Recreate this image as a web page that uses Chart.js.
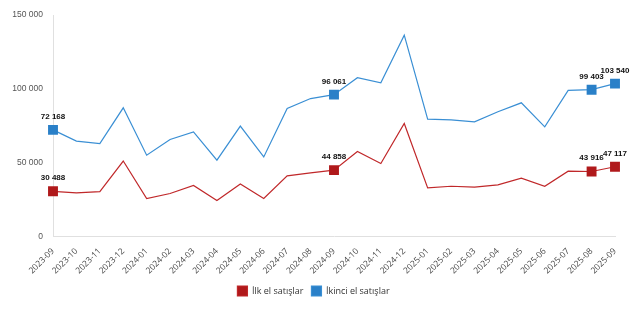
<!DOCTYPE html>
<html>
<head>
<meta charset="utf-8">
<script src="https://cdn.jsdelivr.net/npm/chart.js@4"></script>
<style>
html,body{margin:0;padding:0;background:#fff;}
#wrap{width:643px;height:330px;position:relative;}
</style>
</head>
<body>
<div id="wrap"><canvas id="c" width="643" height="330"></canvas></div>
<script>
const categories = ["2023-09","2023-10","2023-11","2023-12","2024-01","2024-02","2024-03","2024-04","2024-05","2024-06","2024-07","2024-08","2024-09","2024-10","2024-11","2024-12","2025-01","2025-02","2025-03","2025-04","2025-05","2025-06","2025-07","2025-08","2025-09"];
const ilkEl = [30488,29400,30300,51000,25600,29000,34400,24200,35500,25600,40900,43000,44858,57500,49300,76500,32800,33900,33300,34800,39400,33900,44100,43916,47117];
const ikinciEl = [72168,64500,62900,87100,55000,65600,70800,51600,74700,53800,86700,93400,96061,107500,104100,136400,79400,78900,77600,84400,90500,74200,98900,99403,103540];
const labelledIdx = [0,12,23,24];
const yTicks = [0,50000,100000,150000];
const seriesNames = ["İlk el satışlar","İkinci el satışlar"];
const colors = ["#b0191b","#2a80c8"];
const lineColors = ["#c0282a","#3a8fd4"];

function fmt(v){return String(v).replace(/\B(?=(\d{3})+(?!\d))/g," ");}

const radii = categories.map((_,i)=>labelledIdx.includes(i)?7:0);

const labelPlugin = {
  id:'lbl',
  afterDatasetsDraw(chart){
    const ctx = chart.ctx;
    ctx.save();
    ctx.font = 'bold 8px "Liberation Sans", Arial, sans-serif';
    ctx.fillStyle = '#111';
    ctx.textAlign = 'center';
    ctx.textBaseline = 'alphabetic';
    chart.data.datasets.forEach((ds,di)=>{
      const meta = chart.getDatasetMeta(di);
      labelledIdx.forEach(i=>{
        const p = meta.data[i];
        ctx.fillText(fmt(ds.data[i]), p.x, p.y - 11);
      });
    });
    ctx.restore();
  }
};

new Chart(document.getElementById('c'),{
  type:'line',
  data:{
    labels:categories,
    datasets:[
      {label:seriesNames[0],data:ilkEl,borderColor:lineColors[0],backgroundColor:colors[0],borderWidth:1.2,pointStyle:'rect',pointRadius:radii,pointHoverRadius:radii,pointBackgroundColor:colors[0],pointBorderColor:colors[0],pointBorderWidth:0,tension:0},
      {label:seriesNames[1],data:ikinciEl,borderColor:lineColors[1],backgroundColor:colors[1],borderWidth:1.2,pointStyle:'rect',pointRadius:radii,pointHoverRadius:radii,pointBackgroundColor:colors[1],pointBorderColor:colors[1],pointBorderWidth:0,tension:0}
    ]
  },
  options:{
    responsive:false,
    animation:false,
    devicePixelRatio:1,
    layout:{padding:{top:11,right:28,bottom:24,left:12}},
    plugins:{
      legend:{position:'bottom',labels:{boxWidth:10,boxHeight:10,padding:8,color:'#333',font:{family:'"Open Sans", sans-serif',size:9}}},
      tooltip:{enabled:false}
    },
    scales:{
      x:{
        offset:false,
        grid:{display:false},
        border:{display:true,color:'#e0e0e0'},
        afterFit(axis){axis.paddingLeft = 0; axis.paddingRight = 0;},
        ticks:{minRotation:45,maxRotation:45,autoSkip:false,color:'#444',padding:2,font:{family:'"Open Sans", sans-serif',size:8.5}}
      },
      y:{
        min:0,max:150000,
        grid:{display:false,drawTicks:false},
        border:{display:true,color:'#e0e0e0'},
        afterBuildTicks(axis){axis.ticks = yTicks.map(v=>({value:v}));},
        afterFit(axis){axis.width = 41;},
        ticks:{color:'#555',padding:10,font:{family:'"Liberation Sans", Arial, sans-serif',size:8.5},callback:v=>fmt(v)}
      }
    }
  },
  plugins:[labelPlugin]
});
</script>
</body>
</html>
